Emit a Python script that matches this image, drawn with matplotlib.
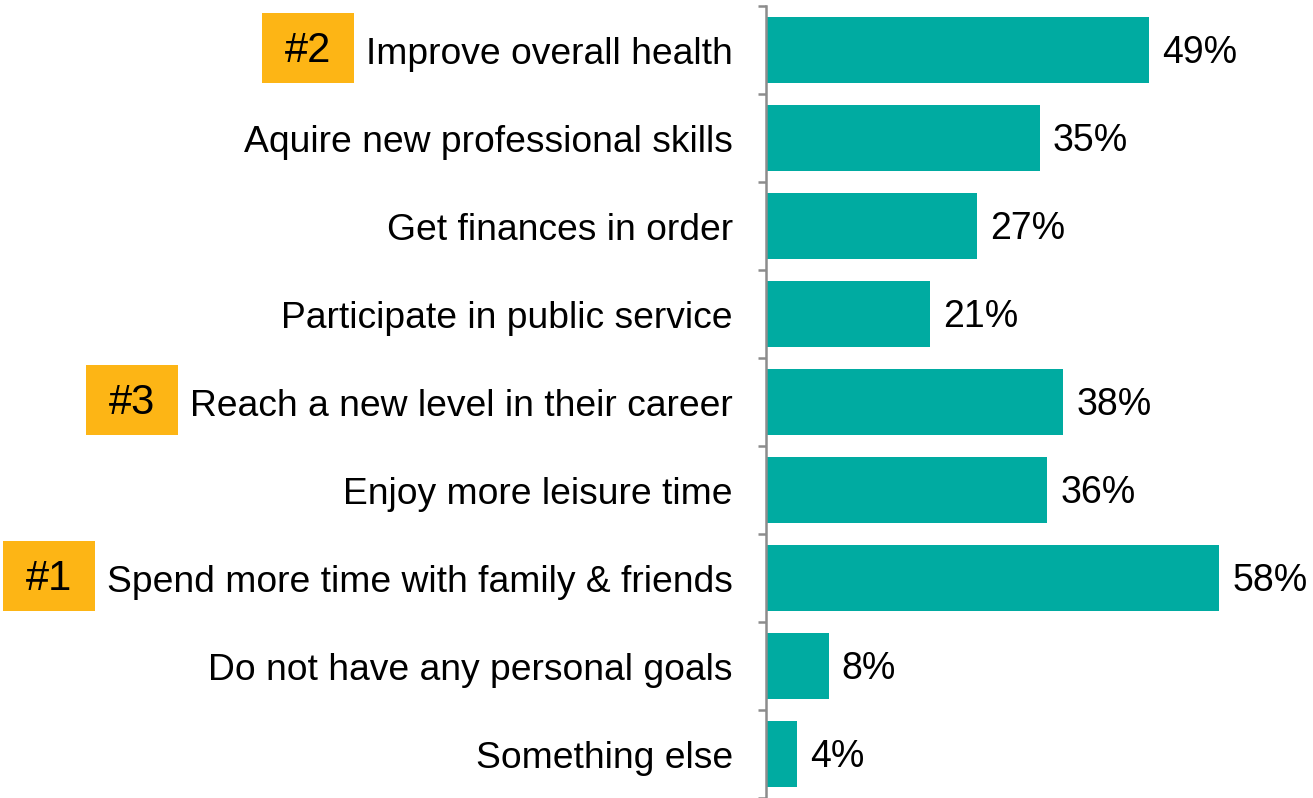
import matplotlib
matplotlib.use("Agg")
import matplotlib.pyplot as plt
from matplotlib.patches import Rectangle
import numpy as np

plt.rcParams['font.family'] = ['Liberation Sans', 'DejaVu Sans']

categories = [
    "Improve overall health",
    "Aquire new professional skills",
    "Get finances in order",
    "Participate in public service",
    "Reach a new level in their career",
    "Enjoy more leisure time",
    "Spend more time with family & friends",
    "Do not have any personal goals",
    "Something else",
]
values = [49, 35, 27, 21, 38, 36, 58, 8, 4]
ranks = {"Improve overall health": "#2",
         "Reach a new level in their career": "#3",
         "Spend more time with family & friends": "#1"}

teal = "#00ABA1"
gold = "#FDB515"
W, H = 1313, 798
fig = plt.figure(figsize=(W / 100, H / 100), dpi=100)
ax = fig.add_axes([766 / W, 0, 1 - 766 / W, 1 - 6 / H])

y = np.arange(len(categories))
ax.barh(y, values, height=0.75, color=teal, zorder=2)
ax.set_ylim(len(categories) - 0.5, -0.5)
ax.set_xlim(0, 70)

for yi, v in zip(y, values):
    ax.text(v + 1.7, yi + 0.03, f"{v}%", va="center", ha="left", fontsize=27, color="black")

for s in ["top", "right", "bottom"]:
    ax.spines[s].set_visible(False)
ax.spines["left"].set_color("#8C8C8C")
ax.spines["left"].set_linewidth(1.8)
ax.set_xticks([])
ax.set_yticks(y)
ax.set_yticklabels(categories, fontsize=26.8)
ax.tick_params(axis="y", which="major", length=0, pad=24)
ax.set_yticks(np.arange(-0.5, len(categories) + 0.5, 1), minor=True)
ax.tick_params(axis="y", which="minor", length=6, width=1.8, color="#8C8C8C")

fig.canvas.draw()
renderer = fig.canvas.get_renderer()
inv = fig.transFigure.inverted()
for lbl, cat in zip(ax.get_yticklabels(), categories):
    if cat in ranks:
        bb = lbl.get_window_extent(renderer)
        yc = ax.transData.transform((0, categories.index(cat)))[1] + 2
        right = bb.x0 - 12
        bw, bh = 92, 70
        x0, y0 = inv.transform((right - bw, yc - bh / 2))
        x1, y1 = inv.transform((right, yc + bh / 2))
        fig.patches.append(Rectangle((x0, y0), x1 - x0, y1 - y0, transform=fig.transFigure,
                                     facecolor=gold, edgecolor="none"))
        tx, ty = inv.transform((right - bw / 2, yc - 3))
        fig.text(tx, ty, ranks[cat], ha="center", va="center",
                 fontsize=30, color="black")

fig.savefig("out.png", dpi=100)
